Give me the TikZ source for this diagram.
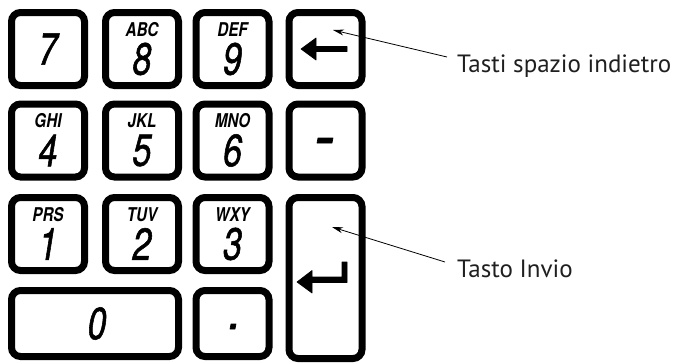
\documentclass[tikz,border=0pt]{standalone}
\usepackage{fontspec}
\setmainfont{PT Sans}
\newfontfamily\digitfont{TeX Gyre Heros}[FakeStretch=0.75,FakeBold=1.2]
\newfontfamily\letterfont{TeX Gyre Heros}[FakeStretch=0.8]
\usetikzlibrary{arrows.meta}
\begin{document}
\begin{tikzpicture}[x=1pt,y=-1pt,
  key/.style={draw=black,line width=7pt,rounded corners=9pt,fill=white,inner sep=0pt,minimum width=73pt,minimum height=73pt},
  dig/.style={inner sep=0pt,font=\digitfont\itshape\fontsize{45}{45}\selectfont},
  let/.style={inner sep=0pt,font=\letterfont\bfseries\itshape\fontsize{19}{19}\selectfont},
  lab/.style={inner sep=0pt,anchor=base west,font=\fontsize{25}{25}\selectfont,text=black!88},
  callout/.style={line width=0.8pt,-{Stealth[length=11pt,width=6pt]}},
  glyph/.style={fill=black,draw=black,line width=0.6pt,line join=round}]
\useasboundingbox (0,0) rectangle (678,362);
% keys
\node[key] (k7) at (48,49) {};
\node[key] (k8) at (142,49) {};
\node[key] (k9) at (232.5,49) {};
\node[key] (kbs) at (325.5,49) {};
\node[key] (k4) at (48,140.5) {};
\node[key] (k5) at (142,140.5) {};
\node[key] (k6) at (232.5,140.5) {};
\node[key] (kmin) at (325.5,140.5) {};
\node[key] (k1) at (48,234) {};
\node[key] (k2) at (142,234) {};
\node[key] (k3) at (232.5,234) {};
\node[key,minimum height=161pt] (kent) at (325.5,278) {};
\node[key,minimum width=167pt,minimum height=66pt] (k0) at (95,323.5) {};
\node[key,minimum height=66pt] (kdot) at (232.5,323.5) {};
% digits
\node[dig] (d7) at (k7.center) {7};
\node[dig] (d0) at ([xshift=2pt]k0.center) {0};
\foreach \k/\d/\l in {k8/8/ABC,k9/9/DEF,k4/4/GHI,k5/5/JKL,k6/6/MNO,k1/1/PRS,k2/2/TUV,k3/3/WXY}{
  \node[dig] (d\d) at ([yshift=-10pt]\k.center) {\d};
  \node[let] (l\d) at ([yshift=19.5pt]\k.center) {\l};
}
% backspace arrow
\fill[glyph] (301,49) -- (316,38) -- (316,46.5) -- (347,46.5) -- (347,51.5) -- (316,51.5) -- (316,60) -- cycle;
% minus
\fill[glyph] (318,138) -- (333,138) -- (332,143) -- (317,143) -- cycle;
% dot
\fill[glyph] (231,324) -- (236,324) -- (235,329) -- (230,329) -- cycle;
% enter arrow
\fill[glyph] (297,282) -- (312,270.5) -- (312,277) -- (342,277) -- (342,262) -- (347,262) -- (347,282.5) -- (312,282.5) -- (312,293) -- cycle;
% labels
\node[lab] (tbs) at (457,72) {Tasti spazio indietro};
\node[lab] (tent) at (457,277) {Tasto Invio};
\coordinate (cbs) at (447,57);
\coordinate (tipbs) at (333,30);
\coordinate (cent) at (445,262);
\coordinate (tipent) at (332,227);
\draw[callout] (cbs) -- (tipbs);
\draw[callout] (cent) -- (tipent);
\end{tikzpicture}
\end{document}
